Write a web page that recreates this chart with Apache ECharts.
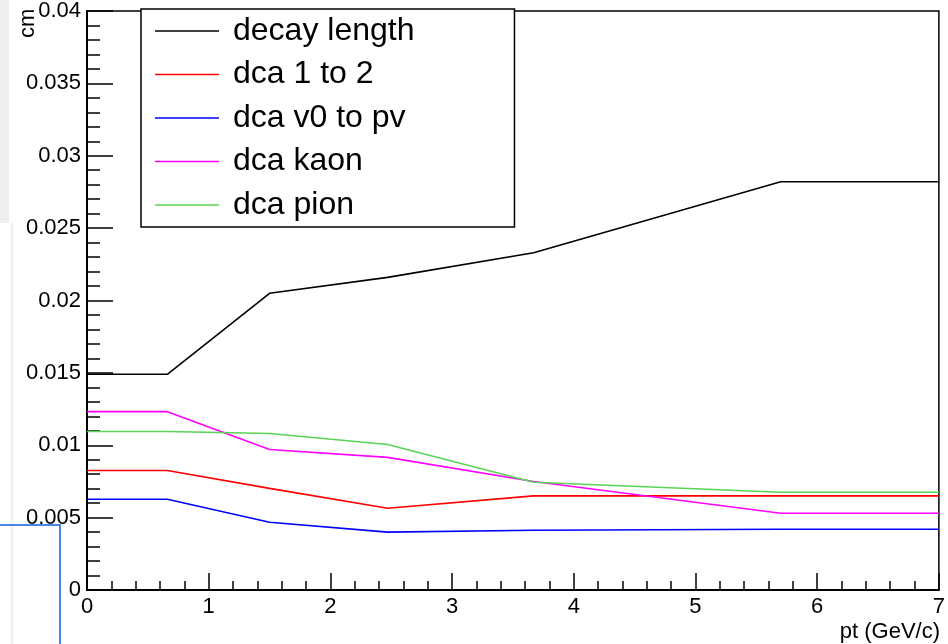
<!DOCTYPE html>
<html>
<head>
<meta charset="utf-8">
<script src="https://cdn.jsdelivr.net/npm/echarts@6/dist/echarts.min.js"></script>
<style>
  html, body { margin: 0; padding: 0; background: #ffffff; }
  #chart { width: 948px; height: 644px; }
</style>
</head>
<body>
<div id="chart"></div>
<script>
// pt bin positions (GeV/c)
const ptValues = [0, 0.66, 1.5, 2.47, 3.67, 5.7, 7];

// cut values per pt bin (cm)
const decayLength = [0.0149, 0.0149, 0.0205, 0.0216, 0.0233, 0.0282, 0.0282];
const dca1to2     = [0.00826, 0.00826, 0.00702, 0.00565, 0.0065, 0.0065, 0.0065];
const dcaV0toPv   = [0.00627, 0.00627, 0.00468, 0.0040, 0.00413, 0.0042, 0.0042];
const dcaKaon     = [0.01232, 0.01232, 0.00971, 0.00916, 0.0075, 0.0053, 0.0053];
const dcaPion     = [0.01095, 0.01095, 0.01081, 0.01005, 0.00744, 0.00675, 0.00675];

const seriesNames = ['decay length', 'dca 1 to 2', 'dca v0 to pv', 'dca kaon', 'dca pion'];
const seriesValues = [decayLength, dca1to2, dcaV0toPv, dcaKaon, dcaPion];
const seriesColors = ['#000000', '#ff0000', '#0000ff', '#ff00ff', '#59d454'];

const FONT = '"Liberation Sans", Arial, Helvetica, sans-serif';

const chart = echarts.init(document.getElementById('chart'), null, { renderer: 'canvas' });

const series = seriesNames.map((name, k) => ({
  name: name,
  type: 'line',
  symbol: 'none',
  animation: false,
  color: seriesColors[k],
  lineStyle: { color: seriesColors[k], width: 1.6 },
  data: ptValues.map((x, i) => [x, seriesValues[k][i]])
}));

chart.setOption({
  backgroundColor: '#ffffff',
  animation: false,
  textStyle: { fontFamily: FONT },
  grid: {
    left: 87, right: 7, top: 9, bottom: 54,
    show: true, borderColor: '#000000', borderWidth: 1.5, backgroundColor: 'transparent'
  },
  xAxis: {
    type: 'value', min: 0, max: 7, interval: 1,
    axisLine: { show: true, onZero: false, lineStyle: { color: '#000', width: 2 } },
    axisTick: { show: true, inside: true, length: 17, lineStyle: { color: '#000', width: 1.5 } },
    minorTick: { show: true, splitNumber: 5, length: 9, lineStyle: { color: '#000', width: 1.5 } },
    splitLine: { show: false },
    axisLabel: { color: '#000', fontSize: 22, fontFamily: FONT, margin: 6 }
  },
  yAxis: {
    type: 'value', min: 0, max: 0.04, interval: 0.005,
    axisLine: { show: true, onZero: false, lineStyle: { color: '#000', width: 2 } },
    axisTick: { show: true, inside: true, length: 26, lineStyle: { color: '#000', width: 1.5 } },
    minorTick: { show: true, splitNumber: 5, length: 13, lineStyle: { color: '#000', width: 1.5 } },
    splitLine: { show: false },
    axisLabel: { color: '#000', fontSize: 22, fontFamily: FONT, margin: 6 }
  },
  legend: {
    orient: 'vertical',
    left: 141, top: 9,
    padding: [4, 100, 4, 14],
    icon: 'rect',
    itemWidth: 64, itemHeight: 1.6, itemGap: 7.5,
    backgroundColor: '#ffffff',
    borderColor: '#000000', borderWidth: 1.5,
    textStyle: { color: '#000', fontSize: 32, fontFamily: FONT, lineHeight: 36, padding: [0, 0, 0, 9] },
    data: seriesNames
  },
  graphic: [
    { type: 'rect', silent: true, shape: { x: 0, y: 0, width: 9, height: 223 }, style: { fill: '#efefef' }, z: -1 },
    { type: 'line', silent: true, shape: { x1: 12, y1: 223, x2: 12, y2: 644 }, style: { stroke: '#f3f3f3', lineWidth: 3 }, z: -1 },
    { type: 'line', silent: true, shape: { x1: 0, y1: 525, x2: 61, y2: 525 }, style: { stroke: '#4a86e8', lineWidth: 2 }, z: 10 },
    { type: 'line', silent: true, shape: { x1: 60, y1: 525, x2: 60, y2: 644 }, style: { stroke: '#4a86e8', lineWidth: 2 }, z: 10 },
    {
      type: 'text', silent: true, x: 39, y: 38, rotation: Math.PI / 2,
      style: { text: 'cm', fill: '#000', font: '22px ' + FONT, textAlign: 'left', textVerticalAlign: 'bottom' }
    },
    {
      type: 'text', silent: true, x: 940, y: 632,
      style: { text: 'pt (GeV/c)', fill: '#000', font: '22px ' + FONT, textAlign: 'right', textVerticalAlign: 'middle' }
    }
  ],
  series: series
});
</script>
</body>
</html>
